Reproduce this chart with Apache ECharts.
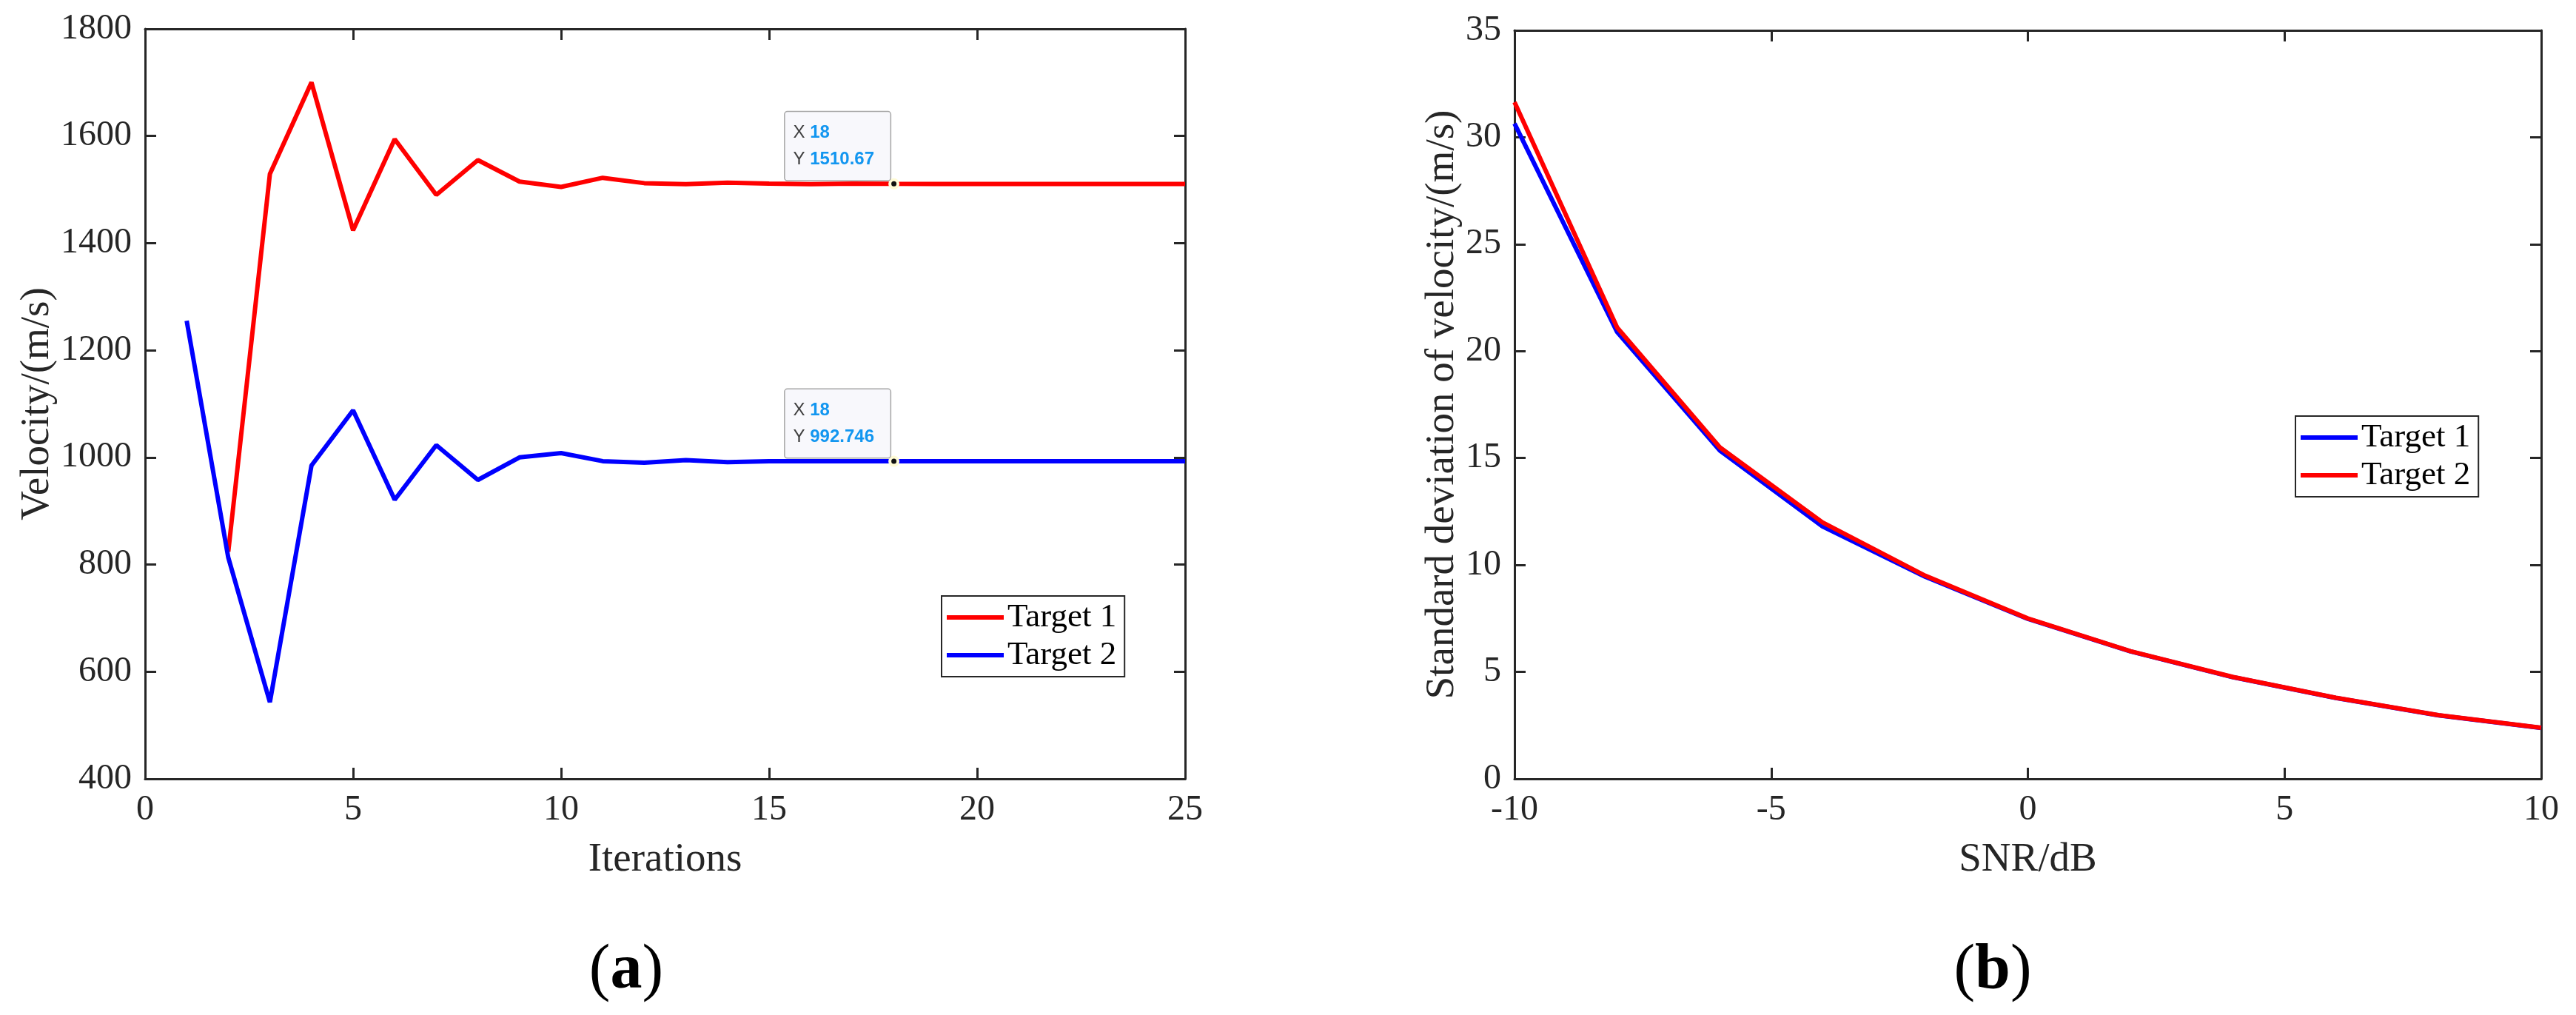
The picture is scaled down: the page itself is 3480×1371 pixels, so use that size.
<!DOCTYPE html>
<html>
<head>
<meta charset="utf-8">
<title>Velocity convergence and SNR</title>
<script src="https://cdn.jsdelivr.net/npm/echarts@6/dist/echarts.min.js"></script>
<style>
  html, body { margin: 0; padding: 0; background: #fff; }
  #chart { width: 3480px; height: 1371px; }
</style>
</head>
<body>
<div id="chart"></div>
<script>
// (a) velocity estimate per iteration
const iterations = [1, 2, 3, 4, 5, 6, 7, 8, 9, 10, 11, 12, 13, 14, 15, 16, 17, 18, 19, 20, 21, 22, 23, 24, 25]
const target1Velocity = [null, 824, 1529, 1700, 1424, 1594, 1490, 1555, 1515, 1505, 1522, 1512, 1510, 1513, 1511, 1510, 1511, 1510.67, 1510.6, 1510.6, 1510.6, 1510.6, 1510.6, 1510.6, 1510.6]
const target2Velocity = [1255, 813, 543, 985, 1088, 921, 1023, 958, 1000, 1008, 993, 990, 995, 991, 993, 993, 993, 992.746, 992.8, 992.8, 992.8, 992.8, 992.8, 992.8, 992.8]
const datatipIteration = 18
const datatipTarget1 = 1510.67
const datatipTarget2 = 992.746

// (b) std of velocity vs SNR
const snrDb = [-10, -8, -6, -4, -2, 0, 2, 4, 6, 8, 10]
const target1Std = [30.64, 20.89, 15.35, 11.8, 9.45, 7.48, 5.96, 4.75, 3.78, 2.97, 2.38]
const target2Std = [31.64, 21.1, 15.5, 11.99, 9.5, 7.5, 5.97, 4.76, 3.79, 2.98, 2.39]

const legendNames = ['Target 1', 'Target 2']

const serif = 'Liberation Serif'
const sans = 'Liberation Sans'
const ink = '#262626'
const RED = '#ff0000'
const BLUE = '#0000ff'

function pairs(xs, ys) {
  return xs.map((x, i) => [x, ys[i]])
}

function boxAxis(gridIndex, position, min, max, interval, main, name, nameGap) {
  return {
    type: 'value',
    gridIndex: gridIndex,
    position: position,
    min: min,
    max: max,
    interval: interval,
    name: main ? name : '',
    nameLocation: 'middle',
    nameGap: nameGap,
    nameTextStyle: { fontFamily: serif, fontSize: 55, color: ink },
    axisLine: { show: true, onZero: false, lineStyle: { color: ink, width: 3 } },
    axisTick: { show: true, inside: true, length: 15, lineStyle: { color: ink, width: 3 } },
    axisLabel: {
      show: main, fontFamily: serif, fontSize: 48, color: ink, margin: 18,
      formatter: v => String(v)
    },
    splitLine: { show: false }
  }
}

// MATLAB style datatip: box sits up-left of the marker
function datatip(x, y) {
  return {
    symbol: 'circle',
    symbolSize: 11,
    itemStyle: { color: '#111', borderColor: '#fffbd6', borderWidth: 4 },
    label: {
      show: true,
      position: [5.5 - 3 - 142, 5.5 - 3 - 92],
      align: 'left',
      verticalAlign: 'top',
      width: 111,
      height: 72,
      fontFamily: sans,
      fontSize: 24,
      backgroundColor: '#f8f8fc',
      borderColor: '#a6a6a6',
      borderWidth: 1.5,
      borderRadius: 3,
      padding: [10, 20, 10, 11],
      formatter: '{k|X }{v|' + x + '}\n{k|Y }{v|' + y + '}',
      rich: {
        k: { fontFamily: sans, fontSize: 24, color: '#404040', lineHeight: 36, align: 'left' },
        v: { fontFamily: sans, fontSize: 24, fontWeight: 'bold', color: '#1296f0', lineHeight: 36, align: 'left' }
      }
    },
    data: [{ coord: [x, y] }]
  }
}

function legendBox(left, top, colors) {
  return {
    orient: 'vertical',
    left: left,
    top: top,
    padding: [6, 11, 6, 7],
    itemGap: 5,
    itemWidth: 77,
    itemHeight: 6,
    icon: 'rect',
    backgroundColor: '#fff',
    borderColor: ink,
    borderWidth: 2,
    borderRadius: 0,
    selectedMode: false,
    textStyle: { fontFamily: serif, fontSize: 45, color: '#000', lineHeight: 46 },
    data: legendNames.map((n, i) => ({ name: n, itemStyle: { color: colors[i] } }))
  }
}

function panelTag(letter, x) {
  return {
    type: 'text', x: x, y: 1312,
    style: {
      text: '{p|(}{b|' + letter + '}{p|)}', align: 'center', verticalAlign: 'middle',
      rich: {
        p: { fontFamily: serif, fontSize: 86, fill: '#000' },
        b: { fontFamily: serif, fontSize: 86, fontWeight: 'bold', fill: '#000' }
      }
    }
  }
}

const chart = echarts.init(document.getElementById('chart'), null, { renderer: 'canvas' })

chart.setOption({
  backgroundColor: '#fff',
  animation: false,
  textStyle: { fontFamily: serif },
  grid: [
    { left: 196, top: 39, width: 1405, height: 1013 },
    { left: 2046, top: 41, width: 1387, height: 1011 }
  ],
  xAxis: [
    boxAxis(0, 'bottom', 0, 25, 5, true, 'Iterations', 82),
    boxAxis(0, 'top', 0, 25, 5, false),
    boxAxis(1, 'bottom', -10, 10, 5, true, 'SNR/dB', 82),
    boxAxis(1, 'top', -10, 10, 5, false)
  ],
  yAxis: [
    boxAxis(0, 'left', 400, 1800, 200, true, 'Velocity/(m/s)', 110),
    boxAxis(0, 'right', 400, 1800, 200, false),
    boxAxis(1, 'left', 0, 35, 5, true, 'Standard deviation of velocity/(m/s)', 70),
    boxAxis(1, 'right', 0, 35, 5, false)
  ],
  legend: [
    legendBox(1272, 805, [RED, BLUE]),
    legendBox(3101, 562, [BLUE, RED])
  ],
  graphic: [
    panelTag('a', 846),
    panelTag('b', 2692)
  ],
  series: [
    {
      name: 'Target 1', type: 'line', xAxisIndex: 0, yAxisIndex: 0,
      data: pairs(iterations, target1Velocity), showSymbol: false,
      lineStyle: { color: RED, width: 6 }, itemStyle: { color: RED },
      markPoint: datatip(datatipIteration, datatipTarget1), z: 2
    },
    {
      name: 'Target 2', type: 'line', xAxisIndex: 0, yAxisIndex: 0,
      data: pairs(iterations, target2Velocity), showSymbol: false,
      lineStyle: { color: BLUE, width: 6 }, itemStyle: { color: BLUE },
      markPoint: datatip(datatipIteration, datatipTarget2), z: 3
    },
    {
      name: 'Target 1', type: 'line', xAxisIndex: 2, yAxisIndex: 2,
      data: pairs(snrDb, target1Std), showSymbol: false,
      lineStyle: { color: BLUE, width: 6 }, itemStyle: { color: BLUE }, z: 2
    },
    {
      name: 'Target 2', type: 'line', xAxisIndex: 2, yAxisIndex: 2,
      data: pairs(snrDb, target2Std), showSymbol: false,
      lineStyle: { color: RED, width: 6 }, itemStyle: { color: RED }, z: 3
    }
  ]
})
</script>
</body>
</html>
